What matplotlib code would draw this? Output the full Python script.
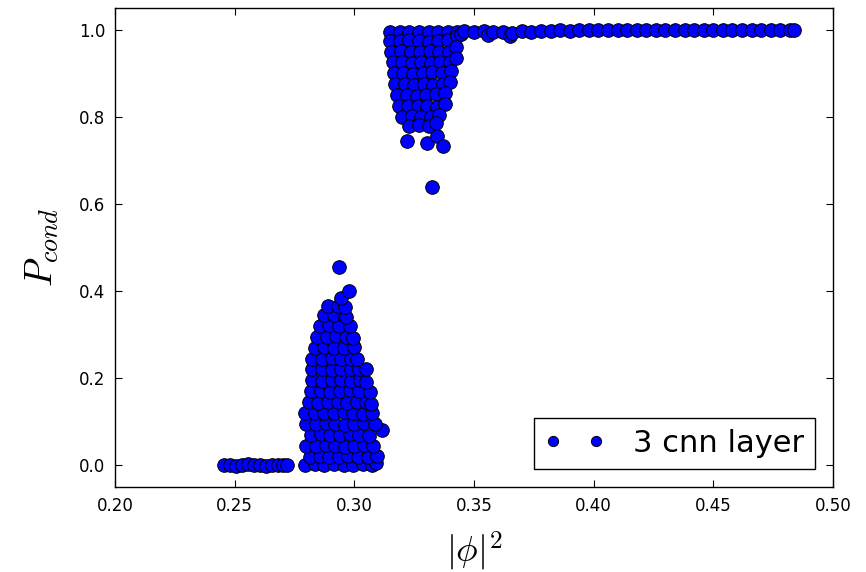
import numpy as np
import matplotlib
matplotlib.use("Agg")
import matplotlib.pyplot as plt

# low-|phi|^2 branch, P_cond ~ 0
phi_low = [0.2455, 0.2480, 0.2505, 0.2530, 0.2555, 0.2580, 0.2605, 0.2630,
           0.2655, 0.2680, 0.2700, 0.2720]
p_low = [0.000, 0.001, -0.001, 0.000, 0.002, 0.000, 0.001, -0.001,
         0.000, 0.001, 0.000, 0.000]

# transition region below threshold
phi_mid = [
    0.2795, 0.2835, 0.2875, 0.2915, 0.2955, 0.2995, 0.3035, 0.3075, 0.3090,
    0.2815, 0.2855, 0.2895, 0.2935, 0.2975, 0.3015, 0.3055, 0.3095,
    0.2800, 0.2840, 0.2880, 0.2920, 0.2960, 0.3000, 0.3040, 0.3080,
    0.2820, 0.2860, 0.2900, 0.2940, 0.2980, 0.3020, 0.3060, 0.3115,
    0.2800, 0.2840, 0.2880, 0.2920, 0.2960, 0.3000, 0.3040, 0.3085,
    0.2795, 0.2835, 0.2875, 0.2915, 0.2955, 0.2995, 0.3035, 0.3075,
    0.2810, 0.2850, 0.2890, 0.2930, 0.2970, 0.3010, 0.3050, 0.3070,
    0.2820, 0.2860, 0.2900, 0.2940, 0.2980, 0.3020, 0.3065,
    0.2825, 0.2865, 0.2905, 0.2945, 0.2985, 0.3025, 0.3050,
    0.2825, 0.2865, 0.2905, 0.2945, 0.2985, 0.3020, 0.3050,
    0.2825, 0.2865, 0.2905, 0.2945, 0.2985, 0.3010,
    0.2835, 0.2875, 0.2915, 0.2955, 0.3000,
    0.2845, 0.2885, 0.2925, 0.2965, 0.2995,
    0.2855, 0.2895, 0.2935, 0.2980,
    0.2875, 0.2915, 0.2955, 0.2965,
    0.2890, 0.2930, 0.2960,
    0.2944, 0.2979, 0.2936,
]
p_mid = [
    0.000, 0.002, 0.000, 0.003, 0.001, 0.000, 0.002, 0.001, 0.004,
    0.020, 0.022, 0.018, 0.020, 0.021, 0.019, 0.020, 0.022,
    0.045, 0.044, 0.046, 0.045, 0.043, 0.045, 0.046, 0.044,
    0.070, 0.071, 0.069, 0.070, 0.072, 0.070, 0.068, 0.080,
    0.095, 0.094, 0.096, 0.095, 0.093, 0.095, 0.096, 0.094,
    0.120, 0.121, 0.119, 0.120, 0.122, 0.120, 0.118, 0.120,
    0.145, 0.144, 0.146, 0.145, 0.143, 0.145, 0.146, 0.140,
    0.170, 0.171, 0.169, 0.170, 0.172, 0.170, 0.168,
    0.195, 0.194, 0.196, 0.195, 0.193, 0.195, 0.190,
    0.220, 0.221, 0.219, 0.220, 0.222, 0.220, 0.222,
    0.245, 0.244, 0.246, 0.245, 0.243, 0.245,
    0.270, 0.271, 0.269, 0.270, 0.272,
    0.295, 0.294, 0.296, 0.295, 0.293,
    0.320, 0.321, 0.319, 0.320,
    0.345, 0.344, 0.346, 0.340,
    0.365, 0.366, 0.364,
    0.385, 0.400, 0.456,
]

# transition region above threshold
phi_high = [
    0.3150, 0.3190, 0.3230, 0.3270, 0.3310, 0.3350, 0.3390, 0.3430,
    0.3150, 0.3190, 0.3230, 0.3270, 0.3310, 0.3350, 0.3390, 0.3430,
    0.3155, 0.3195, 0.3235, 0.3275, 0.3315, 0.3355, 0.3395, 0.3425,
    0.3160, 0.3200, 0.3240, 0.3280, 0.3320, 0.3360, 0.3400, 0.3425,
    0.3165, 0.3205, 0.3245, 0.3285, 0.3325, 0.3365, 0.3405,
    0.3170, 0.3210, 0.3250, 0.3290, 0.3330, 0.3370, 0.3400,
    0.3180, 0.3220, 0.3260, 0.3300, 0.3340, 0.3380,
    0.3185, 0.3225, 0.3265, 0.3305, 0.3345, 0.3380,
    0.3200, 0.3240, 0.3280, 0.3320, 0.3355,
    0.3230, 0.3270, 0.3310, 0.3340,
    0.3221, 0.3302, 0.3344, 0.3369, 0.3323,
]
p_high = [
    0.995, 0.994, 0.996, 0.995, 0.994, 0.996, 0.995, 0.996,
    0.975, 0.974, 0.976, 0.975, 0.973, 0.975, 0.976, 0.985,
    0.950, 0.951, 0.949, 0.950, 0.952, 0.950, 0.948, 0.960,
    0.925, 0.926, 0.924, 0.925, 0.923, 0.925, 0.926, 0.935,
    0.900, 0.901, 0.899, 0.900, 0.902, 0.900, 0.905,
    0.875, 0.876, 0.874, 0.875, 0.873, 0.875, 0.880,
    0.850, 0.851, 0.849, 0.850, 0.852, 0.855,
    0.825, 0.826, 0.824, 0.825, 0.823, 0.830,
    0.800, 0.801, 0.799, 0.800, 0.805,
    0.780, 0.781, 0.779, 0.785,
    0.744, 0.739, 0.757, 0.734, 0.640,
]

# saturated branch, P_cond ~ 1
phi_sat = [0.3445, 0.3460, 0.3500, 0.3540, 0.3560, 0.3580, 0.3620, 0.3650,
           0.3660, 0.3700, 0.3740, 0.3780, 0.3820, 0.3860, 0.3900, 0.3940,
           0.3980, 0.4020, 0.4060, 0.4100, 0.4140, 0.4180, 0.4220, 0.4260,
           0.4300, 0.4340, 0.4380, 0.4420, 0.4460, 0.4500, 0.4540, 0.4580,
           0.4620, 0.4660, 0.4700, 0.4740, 0.4780, 0.4820, 0.4835]
p_sat = [0.990, 0.997, 0.996, 0.998, 0.988, 0.994, 0.996, 0.985,
         0.992, 0.997, 0.995, 0.998, 0.997, 0.999, 0.998, 0.999,
         0.999, 0.999, 0.999, 0.999, 0.999, 1.000, 0.999, 1.000,
         0.999, 1.000, 1.000, 1.000, 0.999, 1.000, 1.000, 1.000,
         1.000, 1.000, 1.000, 1.000, 1.000, 1.000, 1.000]

phi2 = np.concatenate([phi_low, phi_mid, phi_high, phi_sat])
p_cond = np.concatenate([p_low, p_mid, p_high, p_sat])

plt.rcParams['mathtext.fontset'] = 'cm'
plt.rcParams['font.family'] = 'DejaVu Sans'

fig = plt.figure(figsize=(8.66, 5.72), dpi=100)
ax = fig.add_axes([0.1328, 0.1486, 0.8291, 0.8374])

ax.plot(phi2, p_cond, 'o', color='blue', markeredgecolor='black',
        markeredgewidth=0.7, markersize=9.8, label='3 cnn layer')

ax.set_xlim(0.20, 0.50)
ax.set_ylim(-0.05, 1.05)
ax.set_xticks(np.arange(0.20, 0.501, 0.05))
ax.set_yticks(np.arange(0.0, 1.01, 0.2))
ax.xaxis.set_major_formatter(matplotlib.ticker.FormatStrFormatter('%.2f'))
ax.yaxis.set_major_formatter(matplotlib.ticker.FormatStrFormatter('%.1f'))
ax.tick_params(direction='in', top=True, right=True, length=5,
               width=0.8, labelsize=12, pad=7)
for s in ax.spines.values():
    s.set_linewidth(1.0)

ax.set_xlabel(r'$|\phi|^2$', fontsize=26, labelpad=11)
ax.set_ylabel(r'$P_{cond}$', fontsize=27, labelpad=13)

leg = ax.legend(loc='lower right', numpoints=2, markerscale=0.75,
                fontsize=22, fancybox=False, framealpha=1,
                borderaxespad=0.6, handlelength=2.0, handletextpad=0.9,
                borderpad=0.35)
leg.get_frame().set_edgecolor('black')
leg.get_frame().set_linewidth(1.0)

fig.savefig('out.png', dpi=100, facecolor='white')
